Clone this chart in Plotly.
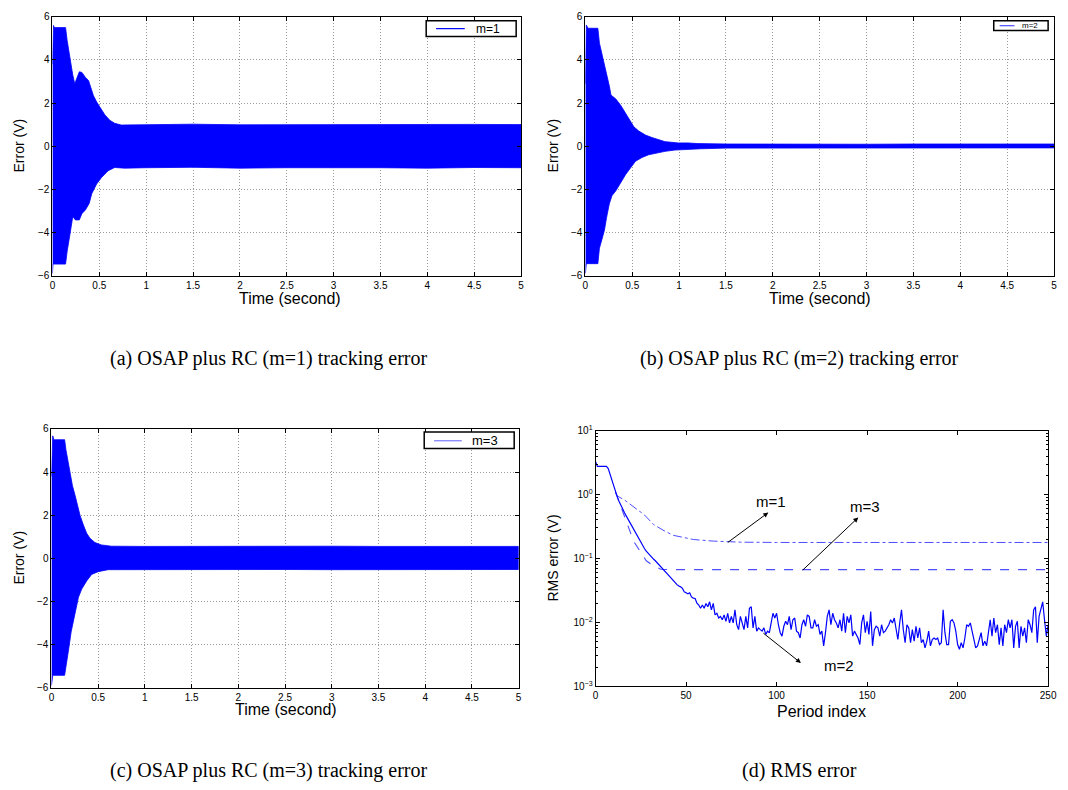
import plotly.graph_objects as go

W, H = 1068, 790

# ---------------- tracking error envelopes (V) vs time (s) ----------------
# (a) m=1
a_t_up = [0, 0.006, 0.012, 0.02, 0.14, 0.157, 0.175, 0.2, 0.217, 0.238, 0.262, 0.287, 0.315, 0.35,
          0.385, 0.413, 0.437, 0.472, 0.507, 0.56, 0.612, 0.664, 0.734, 1.0, 1.5, 2.0, 2.5, 3.0, 3.5,
          4.0, 4.5, 5.0]
a_up = [3.8, 5.6, 5.6, 5.5, 5.5, 4.9, 4.35, 3.75, 3.3, 2.9, 3.2, 3.45, 3.42, 3.2, 3.05, 2.66, 2.35,
        2.05, 1.8, 1.45, 1.2, 1.06, 0.98, 1.0, 1.02, 0.99, 1.0, 1.0, 1.01, 1.0, 1.01, 1.0]
a_t_lo = [0, 0.006, 0.14, 0.157, 0.175, 0.2, 0.217, 0.245, 0.287, 0.315, 0.35, 0.392, 0.42, 0.472,
          0.524, 0.594, 0.664, 0.769, 1.0, 1.5, 2.0, 2.5, 3.0, 3.5, 4.0, 4.5, 5.0]
a_lo = [-5.9, -5.47, -5.47, -4.87, -4.41, -3.8, -3.27, -3.42, -3.42, -3.12, -2.97, -2.66, -2.2,
        -1.75, -1.45, -1.14, -0.99, -1.02, -1.0, -0.98, -1.02, -1.0, -0.99, -1.0, -1.02, -0.99, -1.0]

# (b) m=2
b_t_up = [0, 0.01, 0.028, 0.133, 0.15, 0.175, 0.203, 0.227, 0.255, 0.273, 0.325, 0.378, 0.423, 0.465,
          0.517, 0.57, 0.64, 0.71, 0.78, 0.85, 0.92, 0.99, 1.094, 1.2, 1.5, 2.0, 2.5, 3.0, 3.5, 4.0,
          4.5, 5.0]
b_up = [2.9, 5.62, 5.47, 5.47, 4.78, 4.33, 3.87, 3.33, 2.8, 2.37, 2.19, 1.89, 1.58, 1.28, 0.9, 0.7,
        0.52, 0.4, 0.32, 0.21, 0.18, 0.15, 0.15, 0.12, 0.1, 0.09, 0.09, 0.09, 0.1, 0.09, 0.1, 0.1]
b_t_lo = [0, 0.01, 0.133, 0.15, 0.175, 0.203, 0.227, 0.255, 0.283, 0.325, 0.378, 0.43, 0.483, 0.535,
          0.605, 0.675, 0.745, 0.85, 0.955, 1.06, 1.234, 1.5, 2.0, 2.5, 3.0, 3.5, 4.0, 4.5, 5.0]
b_lo = [-5.9, -5.45, -5.45, -4.73, -4.35, -3.9, -3.29, -2.68, -2.3, -2.07, -1.69, -1.31, -1.0, -0.7,
        -0.52, -0.4, -0.35, -0.24, -0.18, -0.15, -0.12, -0.09, -0.08, -0.08, -0.08, -0.08, -0.08,
        -0.08, -0.08]

# (c) m=3
c_t_up = [0, 0.014, 0.025, 0.141, 0.155, 0.176, 0.2, 0.225, 0.254, 0.282, 0.306, 0.342, 0.377, 0.412,
          0.465, 0.535, 0.641, 1.0, 1.5, 2.0, 2.5, 3.0, 3.5, 4.0, 4.5, 5.0]
c_up = [3.8, 5.68, 5.5, 5.5, 5.04, 4.5, 3.97, 3.36, 2.9, 2.37, 1.99, 1.54, 1.16, 0.93, 0.73, 0.62,
        0.56, 0.55, 0.56, 0.55, 0.55, 0.56, 0.55, 0.55, 0.56, 0.55]
c_t_lo = [0, 0.014, 0.141, 0.158, 0.183, 0.211, 0.236, 0.261, 0.289, 0.324, 0.377, 0.43, 0.5, 0.606,
          1.0, 1.5, 2.0, 2.5, 3.0, 3.5, 4.0, 4.5, 5.0]
c_lo = [-5.9, -5.43, -5.43, -4.86, -4.25, -3.41, -2.88, -2.34, -1.81, -1.43, -1.05, -0.75, -0.62,
        -0.53, -0.52, -0.53, -0.52, -0.52, -0.53, -0.52, -0.52, -0.53, -0.52]

# ---------------- RMS error per period ----------------
rms_m2 = [
    3.25, 2.76, 2.76, 2.76, 2.76, 2.76, 2.76, 2.55, 2.05, 1.65,
    1.38, 1.08, 0.92, 0.78, 0.67, 0.59, 0.52, 0.46, 0.41, 0.36,
    0.32, 0.28, 0.25, 0.22, 0.195, 0.175, 0.158, 0.143, 0.13, 0.12,
    0.112, 0.104, 0.098, 0.092, 0.086, 0.081, 0.076, 0.07, 0.065, 0.06,
    0.056, 0.052, 0.048, 0.044, 0.041, 0.039, 0.037, 0.036, 0.034, 0.03,
    0.029, 0.028, 0.029, 0.025, 0.024, 0.0237,
    0.0200,
    0.0187, 0.0166, 0.0187, 0.0166, 0.0198, 0.0176, 0.0210, 0.0157, 0.0198, 0.0131,
    0.0139, 0.0117, 0.0124, 0.0110, 0.0131, 0.0104, 0.0139, 0.0098, 0.0124, 0.0098,
    0.0157, 0.0092, 0.0077, 0.0124, 0.0092, 0.0077, 0.0124, 0.0082, 0.0166, 0.0176,
    0.0082, 0.0124, 0.0073, 0.0082, 0.0077, 0.0073, 0.0082, 0.0065, 0.0073, 0.0069,
    0.0098, 0.0139, 0.0117, 0.0139, 0.0092, 0.0069, 0.0061, 0.0087, 0.0104, 0.0092,
    0.0124, 0.0077, 0.0110, 0.0117, 0.0073, 0.0069, 0.0057, 0.0092, 0.0110, 0.0087,
    0.0131, 0.0124, 0.0082, 0.0082,
    0.0110, 0.0087, 0.0092, 0.0065, 0.0073, 0.0043, 0.0069, 0.0124, 0.0157, 0.0092,
    0.0139, 0.0110, 0.0098, 0.0082, 0.0110, 0.0073, 0.0139, 0.0069, 0.0124, 0.0098,
    0.0131, 0.0061, 0.0073, 0.0065, 0.0057, 0.0045, 0.0098, 0.0131, 0.0069, 0.0104,
    0.0065, 0.0148, 0.0043, 0.0077, 0.0087, 0.0082, 0.0061, 0.0092, 0.0069, 0.0073,
    0.0082, 0.0092, 0.0110, 0.0098, 0.0117, 0.0082, 0.0054, 0.0098, 0.0157, 0.0077,
    0.0048, 0.0092, 0.0082, 0.0048, 0.0077, 0.0051, 0.0087, 0.0057, 0.0082, 0.0048,
    0.0054, 0.0040, 0.0051, 0.0073, 0.0043, 0.0054,
    0.0057, 0.0054, 0.0057, 0.0045, 0.0048, 0.0157, 0.0069, 0.0045, 0.0045, 0.0104,
    0.0110, 0.0098, 0.0073, 0.0045, 0.0038, 0.0048, 0.0040, 0.0057, 0.0092, 0.0087,
    0.0098, 0.0073, 0.0051, 0.0040, 0.0043, 0.0054, 0.0069, 0.0043, 0.0051, 0.0043,
    0.0069, 0.0110, 0.0061, 0.0117, 0.0069, 0.0092, 0.0045, 0.0082, 0.0043, 0.0092,
    0.0069, 0.0110, 0.0082, 0.0110, 0.0040, 0.0087, 0.0104, 0.0040, 0.0087, 0.0061,
    0.0082, 0.0048, 0.0110, 0.0092, 0.0069, 0.0157, 0.0176, 0.0048, 0.0124, 0.0157,
    0.0210, 0.0110, 0.0061, 0.0092,
]
period_m2 = list(range(len(rms_m2)))

period_m1 = [11, 12, 16, 21, 27, 32, 38, 43, 49, 54, 65, 80, 100, 150, 200, 250]
rms_m1 = [1.05, 0.95, 0.82, 0.65, 0.48, 0.34, 0.27, 0.23, 0.21, 0.198, 0.187, 0.18, 0.178, 0.178,
          0.178, 0.178]

period_m3 = [11, 14, 16, 18, 21, 25, 28, 32, 36, 40, 60, 100, 150, 200, 250]
rms_m3 = [1.1, 0.65, 0.45, 0.32, 0.187, 0.124, 0.092, 0.077, 0.068, 0.067, 0.067, 0.067, 0.067,
          0.067, 0.067]

time_ticks = [0, 0.5, 1, 1.5, 2, 2.5, 3, 3.5, 4, 4.5, 5]
err_ticks = [-6, -4, -2, 0, 2, 4, 6]
period_ticks = [0, 50, 100, 150, 200, 250]
rms_ticks = [0.001, 0.01, 0.1, 1, 10]
rms_tick_text = ["10<sup>−3</sup>", "10<sup>−2</sup>", "10<sup>−1</sup>", "10<sup>0</sup>", "10<sup>1</sup>"]
rms_minor = [m * d for d in (0.001, 0.01, 0.1, 1) for m in range(2, 10)]

BLUE = "#0000ff"
fig = go.Figure()


def band(t_up, v_up, t_lo, v_lo, xa, ya):
    xs = list(t_up) + list(reversed(t_lo))
    ys = list(v_up) + list(reversed(v_lo))
    fig.add_trace(go.Scatter(x=xs, y=ys, fill="toself", fillcolor=BLUE, mode="lines",
                             line=dict(color=BLUE, width=0.8), xaxis=xa, yaxis=ya,
                             showlegend=False, hoverinfo="skip"))


band(a_t_up, a_up, a_t_lo, a_lo, "x", "y")
band(b_t_up, b_up, b_t_lo, b_lo, "x2", "y2")
band(c_t_up, c_up, c_t_lo, c_lo, "x3", "y3")

fig.add_trace(go.Scatter(x=period_m1, y=rms_m1, mode="lines", xaxis="x4", yaxis="y4",
                         line=dict(color="#4d4dff", width=1, dash="dashdot"), showlegend=False))
fig.add_trace(go.Scatter(x=period_m3, y=rms_m3, mode="lines", xaxis="x4", yaxis="y4",
                         line=dict(color="#4d4dff", width=1.1, dash="dash"), showlegend=False))
fig.add_trace(go.Scatter(x=period_m2, y=rms_m2, mode="lines", xaxis="x4", yaxis="y4",
                         line=dict(color=BLUE, width=1.2), showlegend=False))


def px(p):
    return p / W


def py(p):
    return 1 - p / H


tickfont = dict(family="Liberation Sans", size=10, color="black")
axis_common = dict(showline=True, linecolor="black", linewidth=1, mirror="allticks",
                   ticks="inside", ticklen=4, tickcolor="black", tickfont=tickfont,
                   zeroline=False)
grid = dict(showgrid=True, gridcolor="#9a9a9a", griddash="1px,2px", gridwidth=1)

panels = {
    "": ([50, 524], [10, 273]),
    "2": ([589, 1063], [10, 273]),
    "3": ([49, 521.5], [429, 692]),
}
layout = {}
for k, (xd, yd) in panels.items():
    layout["xaxis" + k] = dict(domain=[px(xd[0]), px(xd[1])], anchor="y" + k, range=[0, 5],
                               tickvals=time_ticks, **axis_common, **grid)
    layout["yaxis" + k] = dict(domain=[py(yd[1]), py(yd[0])], anchor="x" + k, range=[-6, 6],
                               tickvals=err_ticks, **axis_common, **grid)

layout["xaxis4"] = dict(domain=[px(599.3), px(1057)], anchor="y4", range=[0, 250],
                        tickvals=period_ticks, showgrid=False, **axis_common)
layout["yaxis4"] = dict(domain=[py(690.7), py(430.7)], anchor="x4", type="log", range=[-3, 1],
                        tickvals=rms_ticks, ticktext=rms_tick_text, showgrid=False,
                        minor=dict(tickvals=rms_minor, ticks="inside", ticklen=2,
                                   tickcolor="black", showgrid=False),
                        **axis_common)


def text(t, x, y, size, family="Liberation Sans", angle=0, xanchor="center"):
    return dict(text=t, x=px(x), y=py(y), xref="paper", yref="paper", showarrow=False,
                font=dict(family=family, size=size, color="black"), textangle=angle,
                xanchor=xanchor, yanchor="middle")


annotations = [
    text("Time (second)", 290, 296, 16),
    text("Time (second)", 826, 296, 16),
    text("Time (second)", 286, 714, 16),
    text("Period index", 828, 716, 16),
    text("Error (V)", 16, 141, 14, angle=-90),
    text("Error (V)", 556, 141, 14, angle=-90),
    text("Error (V)", 16, 560, 14, angle=-90),
    text("RMS error (V)", 556, 560, 14, angle=-90),
    text("(a) OSAP plus RC (m=1) tracking error", 269, 357, 20, family="Liberation Serif"),
    text("(b) OSAP plus RC (m=2) tracking error", 806, 357, 20, family="Liberation Serif"),
    text("(c) OSAP plus RC (m=3) tracking error", 269, 776, 20, family="Liberation Serif"),
    text("(d) RMS error", 806, 776, 20, family="Liberation Serif"),
    # legend labels
    text("m=1", 476, 22, 12, xanchor="left"),
    text("m=2", 1029, 19, 8, xanchor="left"),
    text("m=3", 472, 441, 13, xanchor="left"),
    # curve labels in the RMS panel
    text("m=1", 777, 503, 15),
    text("m=3", 872, 508, 15),
    text("m=2", 845, 670, 15),
]

# pointer arrows (head position, tail offset in pixels)
for hx, hy, dx, dy in [(774, 514, -42, 31), (865, 519, -57, 54), (807, 667, -39, -31)]:
    annotations.append(dict(x=px(hx), y=py(hy), xref="paper", yref="paper", ax=dx, ay=dy,
                            showarrow=True, arrowhead=2, arrowsize=1, arrowwidth=1,
                            arrowcolor="black", text=""))

shapes = []
# legend boxes and sample lines
for (x0, y0, x1, y1), (lx0, lx1, ly), col in [
    ((428, 14, 519, 30), (438, 467, 22), BLUE),
    ((1002, 14, 1057, 24), (1008, 1023, 19), "#4d4dff"),
    ((426, 432, 517, 449), (436, 464, 441), "#7a7aff"),
]:
    shapes.append(dict(type="rect", xref="paper", yref="paper", x0=px(x0), y0=py(y1),
                       x1=px(x1), y1=py(y0), line=dict(color="black", width=1.5),
                       fillcolor="white", layer="above"))
    shapes.append(dict(type="line", xref="paper", yref="paper", x0=px(lx0), y0=py(ly),
                       x1=px(lx1), y1=py(ly), line=dict(color=col, width=1.2), layer="above"))

fig.update_layout(width=W, height=H, margin=dict(l=0, r=0, t=0, b=0),
                  paper_bgcolor="white", plot_bgcolor="white", showlegend=False,
                  annotations=annotations, shapes=shapes, **layout)

fig.write_html("out.html")
